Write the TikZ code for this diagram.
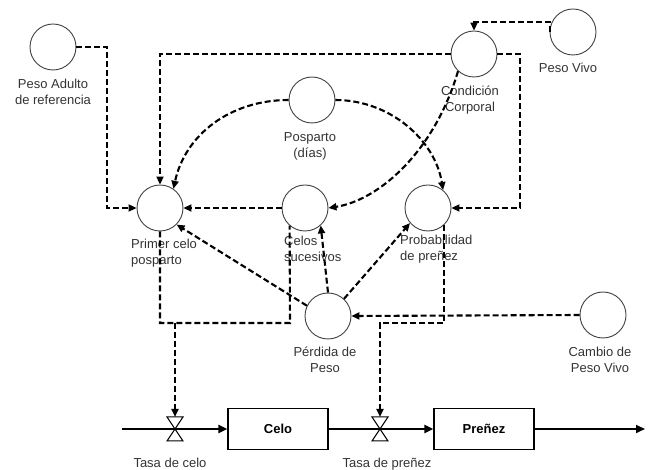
\documentclass[tikz,border=0pt]{standalone}
\usepackage{fontspec}
\setmainfont{Liberation Sans}
\usetikzlibrary{arrows.meta,calc}
\begin{document}
\begin{tikzpicture}[x=1pt,y=-1pt,
  aux/.style={circle, draw=black!75, line width=0.9pt, minimum size=46pt, inner sep=0pt},
  lbl/.style={font=\fontsize{13}{16}\selectfont, text=black!80, inner sep=0pt},
  info/.style={line width=2.1pt, dash pattern=on 6pt off 3pt, -{Triangle[length=8pt,width=7pt]}},
  infoline/.style={line width=2.1pt, dash pattern=on 6pt off 3pt},
  stock/.style={draw, line width=1.2pt, minimum width=100pt, minimum height=41pt, inner sep=0pt,
    font=\bfseries\fontsize{13}{16}\selectfont},
  flow/.style={line width=2pt, -{Triangle[length=9pt,width=8pt]}},
  valve/.style={draw, line width=1pt, fill=white}]
\useasboundingbox (0,0) rectangle (649,470);

% auxiliary variables
\node[aux] (pa) at (53,47) {};
\node[aux] (pc) at (160,208) {};
\node[aux] (cs) at (305,208) {};
\node[aux] (pp) at (312,100) {};
\node[aux] (pr) at (428,208) {};
\node[aux] (cc) at (474,54) {};
\node[aux] (pv) at (573,32) {};
\node[aux] (pe) at (328,316) {};
\node[aux] (cp) at (603,315) {};

% labels
\node[lbl, anchor=north, align=center] (lpa) at (53,79) {Peso Adulto\\de referencia};
\node[lbl, anchor=north west, align=left] (lpc) at (131,239) {Primer celo\\posparto};
\node[lbl, anchor=north west, align=left] (lcs) at (284,236) {Celos\\sucesivos};
\node[lbl, anchor=north west, align=left] (lpr) at (400,235) {Probabilidad\\de preñez};
\node[lbl, anchor=north, align=center] (lpp) at (310,132) {Posparto\\(días)};
\node[lbl, anchor=north, align=center] (lcc) at (470,86) {Condición\\Corporal};
\node[lbl, anchor=north, align=center] (lpv) at (568,63) {Peso Vivo};
\node[lbl, anchor=north, align=center] (lpe) at (325,347) {Pérdida de\\Peso};
\node[lbl, anchor=north, align=center] (lcp) at (600,347) {Cambio de\\Peso Vivo};

% stocks and flows
\node[stock] (celo) at (278,429) {Celo};
\node[stock] (pn) at (484,429) {Preñez};
\coordinate (src) at (122,429);
\coordinate (sink) at (645,429);
\coordinate (v1) at (175,429);
\coordinate (v2) at (380,429);
\coordinate (v1n) at (175,417);
\coordinate (v2n) at (380,417);

\draw[flow] (src) -- (celo.west);
\draw[flow] (celo.east) -- (pn.west);
\draw[flow] (pn.east) -- (sink);

\foreach \v in {v1,v2}{
  \draw[valve] ($(\v)+(-8,-12)$) -- ($(\v)+(8,-12)$) -- (\v) -- cycle;
  \draw[valve] ($(\v)+(-8,12)$) -- ($(\v)+(8,12)$) -- (\v) -- cycle;
}
\node[lbl, anchor=north] (ltc) at (170,458) {Tasa de celo};
\node[lbl, anchor=north] (ltp) at (387,458) {Tasa de preñez};

% information links
\coordinate (k1) at (107,208);
\draw[info] (pa.east) -| (k1) -- (pc.west);
\draw[info] (cc.west) -| (pc.north);
\coordinate (k3) at (520,208);
\draw[info] (cc.east) -| (k3) -- (pr.east);
\draw[info] (pv.west) -- ++(0,-10) -| (cc.north);
\draw[info] (pp.west) .. controls (230,100) and (185,135) .. (pc.55);
\draw[info] (pp.east) .. controls (390,100) and (435,140) .. (pr.50);
\draw[info] (cc.227) .. controls (435,150) and (380,200) .. (cs.east);
\draw[info] (cs.west) -- (pc.east);
\draw[info] (pe.154) -- (pc.315);
\draw[info] (pe.north) -- (cs.312);
\draw[info] (pe.47) -- (pr.220);
\coordinate (k12) at (290,323);
\coordinate (j1) at (175,323);
\draw[infoline] (pc.south) |- (k12) -- (cs.229);
\draw[info] (j1) -- (v1n);
\draw[info] (cp.west) -- (pe.east);
\coordinate (k13) at (380,323);
\draw[info] (pr.314) |- (k13) -- (v2n);
\end{tikzpicture}
\end{document}
